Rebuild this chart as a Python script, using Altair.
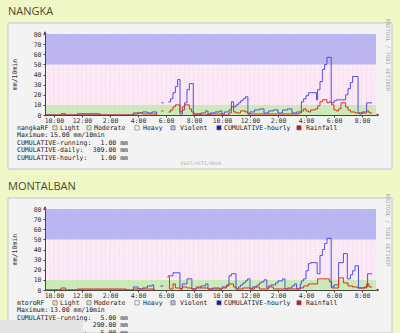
import altair as alt
import pandas as pd

NaN = float("nan")

# ---------------- data (hours of day; >24 = next day) ----------------
nangka_blue_t = [9.36, 10.5, 10.83, 11.67, 13.17, 15.67, 16.0, 16.33, 16.67, 17.0, 17.33, 17.4,
                 17.67, 17.83, 17.9, 18.17, 18.33, 18.5, 18.67, 18.83, 19.0, 19.17, 19.33, 19.5,
                 19.67, 19.95, 20.17, 20.5, 20.83, 21.0, 21.17, 21.5, 21.83, 22.0, 22.17, 22.5,
                 22.67, 22.83, 23.0, 23.17, 23.33, 23.5, 23.67, 23.85, 24.0, 24.33, 24.67, 25.0,
                 25.33, 25.67, 26.0, 26.33, 26.67, 27.0, 27.33, 27.67, 27.83, 28.0, 28.17, 28.75,
                 28.83, 29.0, 29.17, 29.33, 29.5, 29.8, 30.0, 30.17, 30.83, 31.0, 31.17, 31.33,
                 31.72, 32.0, 32.33, 32.72]
nangka_blue_v = [0, 1, 0, 1, 0, 1, 2, 3, 2, 3, 0, NaN,
                 12, 12, NaN, 13, 16, 22, 28, 35, 1, 5, 12, 25,
                 31, 0, 1, 2, 4, 0, 2, 3, 4, 1, 3, 5,
                 13, 8, 10, 12, 14, 16, 18, 1, 3, 5, 6, 2,
                 4, 5, 2, 5, 6, 2, 3, 13, 16, 19, 22, 15,
                 25, 33, 45, 50, 57, 12, 14, 15, 20, 26, 32, 38,
                 2, 3, 12, 12]

nangka_rain_t = [9.36, 10.5, 10.83, 11.67, 13.33, 15.67, 16.33, 17.33, 17.4, 17.67, 17.83, 17.9,
                 18.17, 18.33, 18.5, 18.67, 19.0, 19.17, 19.33, 19.67, 19.83, 20.0, 20.5, 21.0,
                 22.0, 22.5, 22.67, 22.83, 23.0, 23.33, 23.67, 23.85, 27.5, 27.67, 27.83, 28.0,
                 28.17, 28.33, 28.67, 28.83, 29.0, 29.17, 29.5, 29.67, 29.83, 30.0, 30.17, 30.33,
                 30.5, 30.83, 31.0, 31.17, 31.5, 31.83, 32.0, 32.33, 32.5, 32.72]
nangka_rain_v = [0, 1, 0, 1, 0, 2, 1, 0, NaN, 4, 4, NaN,
                 3, 5, 8, 10, 3, 8, 10, 6, 3, 1, 0, 1,
                 0, 2, 8, 3, 2, 4, 3, 1, 2, 4, 6, 4,
                 3, 5, 6, 9, 13, 15, 12, 13, 10, 5, 4, 6,
                 12, 8, 5, 3, 2, 1, 2, 4, 2, 2]

montalban_blue_t = [9.36, 15.67, 16.0, 16.33, 16.67, 17.0, 17.12, 17.3, 17.6, 17.8, 17.9, 18.15,
                    18.5, 19.0, 19.17, 19.5, 19.85, 20.17, 20.5, 20.83, 21.0, 21.33, 21.83, 22.0,
                    22.33, 22.5, 22.67, 23.0, 23.17, 23.33, 23.5, 23.67, 23.83, 24.0, 24.17, 24.5,
                    24.67, 24.83, 25.0, 25.2, 25.33, 25.5, 25.83, 26.0, 26.33, 26.5, 26.67, 27.0,
                    27.17, 27.33, 27.6, 27.67, 27.83, 28.0, 28.17, 28.33, 28.8, 29.0, 29.17, 29.33,
                    29.5, 29.8, 30.0, 30.33, 30.67, 30.95, 31.17, 31.33, 31.5, 31.75, 32.17, 32.4,
                    32.72]
montalban_blue_v = [0, 3, 1, 2, 4, 5, 0, NaN, 4, 4, NaN, 14,
                    17, 1, 6, 11, 1, 2, 4, 6, 1, 2, 1, 3,
                    5, 14, 16, 1, 3, 5, 7, 9, 11, 1, 3, 5,
                    7, 8, 10, 2, 4, 5, 7, 9, 11, 1, 2, 4,
                    6, 1, 6, 9, 11, 19, 26, 27, 16, 34, 40, 46,
                    51, 3, 5, 27, 36, 11, 15, 19, 24, 2, 3, 16,
                    16]

montalban_rain_t = [9.36, 10.5, 10.83, 11.67, 15.17, 15.67, 17.17, 17.3, 18.1, 18.25, 18.5, 18.67,
                    19.0, 19.17, 19.5, 19.83, 20.17, 20.5, 21.0, 22.0, 22.33, 22.5, 22.83, 23.0,
                    23.5, 24.0, 24.33, 24.67, 25.33, 25.67, 27.5, 27.83, 28.17, 28.83, 29.67, 29.83,
                    30.33, 30.67, 31.0, 31.33, 31.67, 32.33, 32.5, 32.72]
montalban_rain_v = [0, 2, 0, 1, 0, 1, 0, NaN, 13, 1, 6, 2,
                    1, 3, 2, 1, 3, 2, 1, 2, 4, 6, 3, 1,
                    2, 1, 3, 1, 3, 1, 2, 4, 6, 11, 8, 2,
                    12, 7, 4, 3, 2, 6, 3, 3]

x_ticks = list(range(10, 33, 2))
y_ticks = list(range(0, 81, 10))

band_lo = [0, 10, 50]
band_hi = [10, 50, 80]
band_col = ["#c8f0b6", "#fdeef8", "#b6b6f4"]

legend_names = ["Light", "Moderate", "Heavy", "Violent", "CUMULATIVE-hourly", "Rainfall"]
legend_cols = ["#efdcae", "#c8f0b6", "#fff6fa", "#b6b6f4", "#1414c8", "#d01414"]
legend_sq_x = [55, 89, 137, 173, 219, 299]
legend_tx_x = [60, 94, 143, 180, 224, 306]

# ---------------- style ----------------
PAGE_BG = "#eff7c6"
BOX_FILL = "#f3f3f3"
BOX_STROKE = "#c6c6c6"
TITLE_COLOR = "#4a4a2c"
MONO = "DejaVu Sans Mono"
W, H = 331, 81
X0 = 45
BLUE_LINE = "#5050e0"
RED_LINE = "#e03018"

xs = alt.Scale(domain=[9.36, 33.0], nice=False, zero=False)
ys = alt.Scale(domain=[0, 80], nice=False)

x_axis = alt.Axis(values=x_ticks,
                  labelExpr="(datum.value % 12 == 0 ? 12 : datum.value % 12) + ':00'",
                  title=None, grid=False, labelFont=MONO, labelFontSize=6.5, labelColor="#333",
                  tickSize=2, tickColor="#444", domainColor="#444", labelPadding=0,
                  labelFlush=False, labelOverlap=False, zindex=1)
y_axis = alt.Axis(values=y_ticks, title=None, grid=False, labelFont=MONO, labelFontSize=6.5,
                  labelColor="#333", tickSize=2, tickColor="#444", domainColor="#444",
                  labelPadding=2, labelOverlap=False, zindex=1)

one = pd.DataFrame({"k": [0]})


def txt(s, px, py, size=6.5, color="#222", align="left", font=MONO, angle=0):
    return alt.Chart(one).mark_text(text=s, align=align, baseline="middle", font=font,
                                    fontSize=size, color=color, angle=angle).encode(
        x=alt.value(px), y=alt.value(py))


def box(x1, y1, x2, y2, fill, stroke=None):
    kw = dict(fill=fill)
    if stroke:
        kw.update(stroke=stroke, strokeWidth=1)
    else:
        kw.update(strokeWidth=0)
    return alt.Chart(one).mark_rect(**kw).encode(
        x=alt.value(x1), x2=alt.value(x2), y=alt.value(y1), y2=alt.value(y2))


def panel(title, rf, bt, bv, rt, rv, stats, plot_top, page_top, page_bottom,
          box_top, box_bottom, footer, overlay):
    P = lambda yy: yy - plot_top
    layers = []
    layers.append(box(-X0, P(page_top), 400 - X0, P(page_bottom), PAGE_BG))
    layers.append(box(8 - X0, P(box_top), 392 - X0, P(box_bottom), BOX_FILL, BOX_STROKE))
    layers.append(txt(title, 8 - X0, P(box_top) - 11, size=11, color=TITLE_COLOR,
                      font="Open Sans"))

    bands = pd.DataFrame({"lo": band_lo, "hi": band_hi, "col": band_col})
    layers.append(alt.Chart(bands).mark_rect(strokeWidth=0).encode(
        x=alt.value(0), x2=alt.value(W),
        y=alt.Y("lo:Q", scale=ys, axis=y_axis), y2="hi:Q",
        color=alt.Color("col:N", scale=None)))

    layers.append(alt.Chart(alt.sequence(9.6667, 33.0, 1 / 3, as_="t")).mark_rule(
        color="#eab8d4", strokeWidth=0.5, opacity=0.35).encode(
        x=alt.X("t:Q", scale=xs, axis=x_axis), y=alt.value(0), y2=alt.value(H)))
    layers.append(alt.Chart(alt.sequence(2, 80, 2, as_="v")).mark_rule(
        color="#eab8d4", strokeWidth=0.5, opacity=0.3).encode(
        y=alt.Y("v:Q", scale=ys, axis=y_axis), x=alt.value(0), x2=alt.value(W)))

    bdf = pd.DataFrame({"t": bt, "v": bv})
    rdf = pd.DataFrame({"t": rt, "v": rv})
    layers.append(alt.Chart(bdf).mark_line(interpolate="step-after", color=BLUE_LINE,
                                           strokeWidth=1, invalid="break-paths-show-domains").encode(
        x=alt.X("t:Q", scale=xs, axis=x_axis), y=alt.Y("v:Q", scale=ys, axis=y_axis)))
    layers.append(alt.Chart(rdf).mark_line(interpolate="step-after", color=RED_LINE,
                                           strokeWidth=1, invalid="break-paths-show-domains").encode(
        x=alt.X("t:Q", scale=xs, axis=x_axis), y=alt.Y("v:Q", scale=ys, axis=y_axis)))

    # axis arrows
    layers.append(alt.Chart(one).mark_point(shape="triangle-up", filled=True, size=10,
                                            color="#8b1010", opacity=1).encode(
        x=alt.value(0), y=alt.value(-1.5)))
    layers.append(alt.Chart(one).mark_point(shape="triangle-right", filled=True, size=10,
                                            color="#8b1010", opacity=1).encode(
        x=alt.value(W + 2), y=alt.value(H)))

    layers.append(txt("mm/10min", 15 - X0, H / 2, size=6.5, color="#333", align="center",
                      angle=270))
    layers.append(txt("RRDTOOL / TOBI OETIKER", 388 - X0, 21, size=5.5, color="#aaaaaa",
                      align="center", angle=90))

    # legend row
    ly = 93.8
    layers.append(txt(rf, 17 - X0, ly))
    for i in range(len(legend_names)):
        layers.append(alt.Chart(one).mark_square(size=18, fill=legend_cols[i], stroke="#666",
                                                 strokeWidth=0.6, opacity=1).encode(
            x=alt.value(legend_sq_x[i] - X0), y=alt.value(ly)))
        layers.append(txt(legend_names[i], legend_tx_x[i] - X0, ly))

    # stats
    mx, run, daily, hourly = stats
    layers.append(txt("Maximum:", 17 - X0, 101.2))
    layers.append(txt(mx + " mm/10min", 50 - X0, 101.2))
    rows = [("CUMULATIVE-running:", run), ("CUMULATIVE-daily:", daily),
            ("CUMULATIVE-hourly:", hourly)]
    for j, (lab, val) in enumerate(rows):
        yy = 108.7 + 7.6 * j
        layers.append(txt(lab, 17 - X0, yy))
        layers.append(txt(val + " mm", 128 - X0, yy, align="right"))

    if footer:
        layers.append(txt(footer, 201 - X0, P(163.5), size=4.8, color="#b0b0b0", align="center"))
    if overlay:
        layers.append(box(-X0, P(320), 83 - X0, P(334), "#e4e4e4"))

    return alt.layer(*layers).properties(width=W, height=H)


p1 = panel("NANGKA", "nangkaRF", nangka_blue_t, nangka_blue_v, nangka_rain_t, nangka_rain_v,
           ("15.00", "1.00", "309.00", "1.00"), plot_top=34, page_top=0, page_bottom=170,
           box_top=23, box_bottom=169, footer="DOST/ASTI/ARG4", overlay=False)
p2 = panel("MONTALBAN", "mtoroRF", montalban_blue_t, montalban_blue_v, montalban_rain_t,
           montalban_rain_v, ("13.00", "5.00", "290.00", "5.00"), plot_top=209, page_top=170,
           page_bottom=333, box_top=198, box_bottom=333, footer=None, overlay=True)

chart = alt.vconcat(p1, p2, spacing=0).properties(padding=0).configure(
    background=PAGE_BG).configure_view(stroke=None)

chart.save("out.html", embed_options={"renderer": "svg", "actions": False})
